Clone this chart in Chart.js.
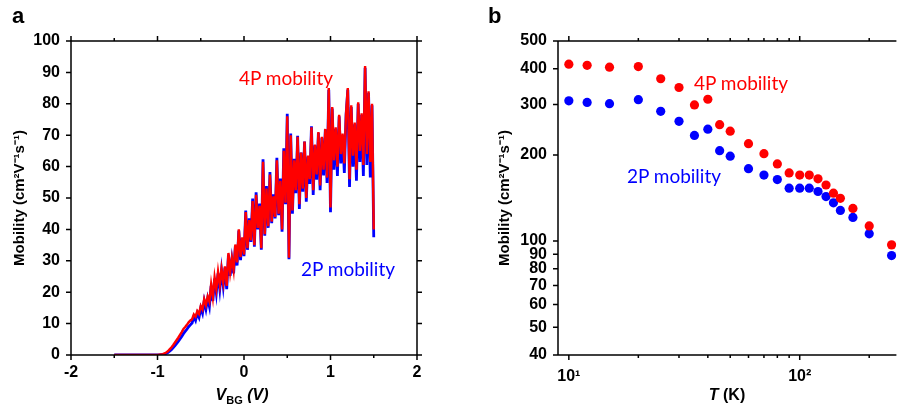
<!DOCTYPE html>
<html>
<head>
<meta charset="utf-8">
<script src="https://cdn.jsdelivr.net/npm/chart.js@4.4.1/dist/chart.umd.min.js"></script>
<style>
  body { margin: 0; background: #fff; }
  #wrap { position: relative; width: 901px; height: 412px; overflow: hidden; background: #fff; }
  canvas { position: absolute; top: 0; }
  .txt { position: absolute; white-space: nowrap; line-height: 1; }
  .panel { font: bold 22px "Liberation Sans", Arial, sans-serif; color: #000; }
  .axt { font: bold 16px "Liberation Sans", Arial, sans-serif; color: #000; transform: translateX(-50%); }
  .note { font: 19px Lato, "Open Sans", sans-serif; transform: translateX(-50%); }
</style>
</head>
<body>
<div id="wrap">
  <canvas id="chartA" width="450" height="412" style="left:0"></canvas>
  <canvas id="chartB" width="451" height="412" style="left:450px"></canvas>

  <div class="txt panel" style="left:12px;top:3px">a</div>
  <div class="txt panel" style="left:488px;top:3px">b</div>

  <div class="txt axt" style="left:242px;top:386px"><i>V</i><span style="font-size:11px;position:relative;top:4px">BG</span><i> (V)</i></div>
  <div class="txt axt" style="left:727px;top:386px"><i>T</i> (K)</div>

  <div class="txt note" style="left:286px;top:66px;color:#ff0000">4P mobility</div>
  <div class="txt note" style="left:348px;top:257px;color:#0000ff">2P mobility</div>
  <div class="txt note" style="left:741px;top:71px;color:#ff0000">4P mobility</div>
  <div class="txt note" style="left:674px;top:164px;color:#0000ff">2P mobility</div>
</div>

<script>
// ---- panel a: mobility vs back-gate voltage, sweep from -1.5 V in 0.02 V steps
const V_START = -1.5;
const V_STEP = 0.02;

const mu4P = [
  // -1.50 .. -1.02 (flat, off state)
  0, 0, 0, 0, 0, 0, 0, 0, 0, 0, 0, 0, 0, 0, 0, 0, 0, 0, 0, 0, 0, 0, 0, 0, 0,
  0.0, 0.1, 0.2, 0.3, 0.5,
  0.8, 1.2, 1.8, 2.4, 3.1,
  3.9, 4.7, 5.5, 6.4, 7.3,
  8.3, 8.9, 9.6, 10.4, 11.0,
  11.4, 12.9, 12.2, 14.0, 13.1,
  15.6, 14.5, 17.8, 15.9, 18.6,
  17.0, 22.5, 18.4, 24.8, 21.0,
  26.5, 22.3, 27.4, 23.1, 28.2,
  22.0, 32.5, 26.4, 30.8, 27.0,
  35.2, 29.5, 40.0, 31.2, 37.5,
  32.0, 45.5, 34.0, 43.0, 36.5,
  49.0, 35.0, 51.0, 40.5, 47.5,
  34.0, 61.5, 38.5, 53.0, 41.0,
  57.5, 42.5, 50.5, 44.0, 62.0,
  45.0, 55.5, 40.0, 65.0, 48.5,
  76.0, 31.0, 70.0, 46.0, 62.0,
  52.5, 69.5, 48.0, 64.5, 53.0,
  68.0, 50.0, 63.5, 56.0, 72.5,
  52.5, 67.0, 57.5, 71.0, 54.0,
  69.5, 59.0, 72.0, 56.5, 85.0,
  47.0, 79.0, 62.0, 72.5, 60.0,
  76.5, 64.0, 70.5, 61.0, 77.0,
  85.0, 56.0, 79.5, 63.5, 74.0,
  59.0, 80.5, 65.0, 77.0, 60.5,
  92.0, 64.0, 84.0, 61.5, 80.0,
  40.0
];

const mu2P = [
  0, 0, 0, 0, 0, 0, 0, 0, 0, 0, 0, 0, 0, 0, 0, 0, 0, 0, 0, 0, 0, 0, 0, 0, 0,
  0.0, 0.0, 0.1, 0.2, 0.3,
  0.5, 0.8, 1.2, 1.7, 2.3,
  2.9, 3.6, 4.3, 5.1, 5.9,
  6.8, 7.5, 8.2, 9.0, 9.6,
  10.2, 12.2, 11.0, 13.3, 12.0,
  15.0, 13.3, 17.2, 14.6, 18.0,
  15.5, 22.0, 17.2, 24.3, 19.8,
  26.0, 21.0, 27.0, 22.0, 27.8,
  21.0, 32.0, 25.2, 30.4, 26.0,
  34.8, 28.5, 39.6, 30.2, 37.2,
  31.5, 46.0, 33.5, 43.5, 36.0,
  49.8, 34.5, 51.8, 40.0, 48.2,
  33.5, 62.3, 38.0, 53.8, 40.5,
  58.3, 42.0, 51.2, 43.5, 62.8,
  44.5, 56.2, 39.3, 65.8, 48.0,
  76.8, 30.5, 70.5, 45.0, 62.5,
  51.5, 69.8, 46.5, 64.5, 52.0,
  68.0, 48.8, 63.2, 54.5, 72.8,
  51.0, 66.8, 55.8, 70.8, 52.5,
  69.2, 57.2, 71.8, 54.8, 84.5,
  45.5, 78.5, 59.0, 72.0, 57.0,
  76.0, 61.0, 70.0, 58.0, 76.5,
  84.5, 53.5, 79.0, 60.0, 73.5,
  55.5, 80.0, 61.5, 76.5, 57.0,
  91.5, 60.5, 83.5, 56.5, 79.5,
  37.5
];

const xTicksA = [-2, -1, 0, 1, 2];
const xMinorA = [-1.5, -0.5, 0.5, 1.5];
const yTicksA = [0, 10, 20, 30, 40, 50, 60, 70, 80, 90, 100];

// ---- panel b: mobility vs temperature (log-log)
const tempK = [10, 12, 15, 20, 25, 30, 35, 40, 45, 50, 60, 70, 80, 90, 100, 110, 120, 130, 140, 150, 170, 200, 250];
const muT4P = [415, 411, 405, 407, 369, 344, 299, 313, 255, 242, 219, 202, 186, 173, 170, 170, 165, 157, 147, 141, 130, 113, 97];
const muT2P = [309, 305, 302, 312, 284, 262, 234, 246, 207, 198, 179, 170, 164, 153, 153, 153, 149, 143, 136, 128, 121, 106, 89];

const xTicksB = [10, 100];
const xMinorB = [20, 30, 40, 50, 60, 70, 80, 90, 200];
const yTicksB = [40, 50, 60, 70, 80, 90, 100, 200, 300, 400, 500];

const RED = '#ff0000';
const BLUE = '#0000ff';
const tickFont = { family: '"Liberation Sans", Arial, sans-serif', size: 16, weight: 'bold' };
const titleFont = { family: '"Liberation Sans", Arial, sans-serif', size: 15, weight: 'bold' };

// frame box + outward tick marks (major/minor) on the sides we want
function makeFrame(cfg) {
    return {
        id: 'frame',
        afterDraw(chart) {
            const { ctx, chartArea: a } = chart;
            const xs = chart.scales.x, ys = chart.scales.y;
            ctx.save();
            ctx.strokeStyle = '#000';
            ctx.lineWidth = 1.5;
            ctx.beginPath();
            ctx.moveTo(a.left, a.top); ctx.lineTo(a.left, a.bottom); ctx.lineTo(a.right, a.bottom);
            ctx.moveTo(a.left, a.top); ctx.lineTo(a.right, a.top);
            if (cfg.right) { ctx.moveTo(a.right, a.top); ctx.lineTo(a.right, a.bottom); }
            const xMark = (vals, len) => vals.forEach(v => {
                const p = xs.getPixelForValue(v);
                ctx.moveTo(p, a.bottom); ctx.lineTo(p, a.bottom + len);
                ctx.moveTo(p, a.top); ctx.lineTo(p, a.top - len);
            });
            const yMark = (vals, len) => vals.forEach(v => {
                const p = ys.getPixelForValue(v);
                ctx.moveTo(a.left, p); ctx.lineTo(a.left - len, p);
                if (cfg.right) { ctx.moveTo(a.right, p); ctx.lineTo(a.right + len, p); }
            });
            xMark(cfg.xMajor, 5);
            xMark(cfg.xMinor, 3);
            yMark(cfg.yMajor, 5);
            ctx.stroke();
            ctx.restore();
        }
    };
}

const setTicks = vals => scale => { scale.ticks = vals.map(v => ({ value: v })); };

document.addEventListener("DOMContentLoaded", () => {
    const vbg = mu4P.map((_, i) => +(V_START + i * V_STEP).toFixed(2));

    new Chart(document.getElementById('chartA'), {
        type: 'line',
        data: {
            datasets: [
                { label: '4P mobility', data: vbg.map((v, i) => ({ x: v, y: mu4P[i] })), borderColor: RED, borderWidth: 2.4, pointRadius: 0, tension: 0, order: 1 },
                { label: '2P mobility', data: vbg.map((v, i) => ({ x: v, y: mu2P[i] })), borderColor: BLUE, borderWidth: 2.8, pointRadius: 0, tension: 0, order: 2 }
            ]
        },
        options: {
            responsive: false,
            animation: false,
            events: [],
            layout: { padding: { left: 0, right: 33, top: 41, bottom: 0 } },
            plugins: { legend: { display: false }, tooltip: { enabled: false } },
            scales: {
                x: {
                    type: 'linear', min: -2, max: 2,
                    afterBuildTicks: setTicks(xTicksA),
                    afterFit: s => { s.height = 57; },
                    grid: { display: false, drawTicks: false },
                    border: { display: false },
                    ticks: { padding: 8, font: tickFont, color: '#000', maxRotation: 0, autoSkip: false, callback: v => String(v) }
                },
                y: {
                    min: 0, max: 100,
                    afterBuildTicks: setTicks(yTicksA),
                    afterFit: s => { s.width = 71; },
                    grid: { display: false, drawTicks: false },
                    border: { display: false },
                    ticks: { padding: 11, font: tickFont, color: '#000', autoSkip: false },
                    title: { display: true, text: 'Mobility (cm²V⁻¹s⁻¹)', font: titleFont, color: '#000', padding: { top: 11, bottom: 0 } }
                }
            }
        },
        plugins: [makeFrame({ right: true, xMajor: xTicksA, xMinor: xMinorA, yMajor: yTicksA })]
    });

    new Chart(document.getElementById('chartB'), {
        type: 'scatter',
        data: {
            datasets: [
                { label: '4P mobility', data: tempK.map((t, i) => ({ x: t, y: muT4P[i] })), backgroundColor: RED, borderWidth: 0, pointRadius: 4.6 },
                { label: '2P mobility', data: tempK.map((t, i) => ({ x: t, y: muT2P[i] })), backgroundColor: BLUE, borderWidth: 0, pointRadius: 4.6 }
            ]
        },
        options: {
            responsive: false,
            animation: false,
            events: [],
            layout: { padding: { left: 0, right: 0, top: 41, bottom: 0 } },
            plugins: { legend: { display: false }, tooltip: { enabled: false } },
            scales: {
                x: {
                    type: 'logarithmic', min: 8.975, max: 262.3,
                    afterBuildTicks: setTicks(xTicksB),
                    afterFit: s => { s.height = 57; },
                    grid: { display: false, drawTicks: false },
                    border: { display: false },
                    ticks: { padding: 12, font: tickFont, color: '#000', maxRotation: 0, autoSkip: false, callback: v => (v === 10 ? '10¹' : v === 100 ? '10²' : '') }
                },
                y: {
                    type: 'logarithmic', min: 40, max: 500,
                    afterBuildTicks: setTicks(yTicksB),
                    afterFit: s => { s.width = 108; },
                    grid: { display: false, drawTicks: false },
                    border: { display: false },
                    ticks: { padding: 11, font: tickFont, color: '#000', autoSkip: false, callback: v => String(v) },
                    title: { display: true, text: 'Mobility (cm²V⁻¹s⁻¹)', font: titleFont, color: '#000', padding: { top: 46, bottom: 0 } }
                }
            }
        },
        plugins: [makeFrame({ right: false, xMajor: xTicksB, xMinor: xMinorB, yMajor: yTicksB })]
    });
});
</script>
</body>
</html>
